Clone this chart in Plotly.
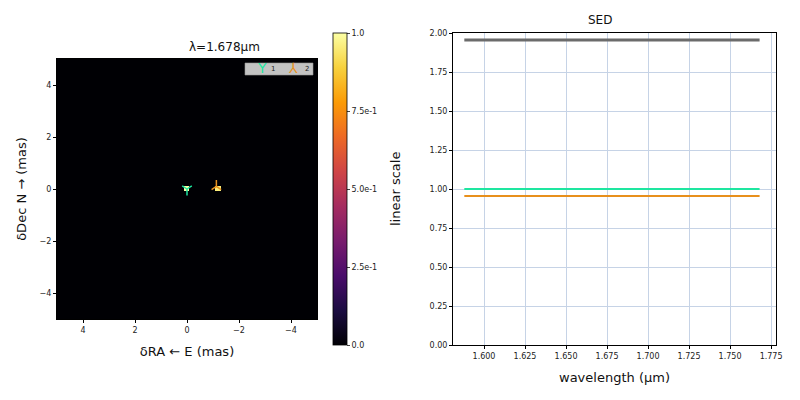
import numpy as np
import plotly.graph_objects as go

# sources in the model image (mas) and their relative fluxes
src_names = ['1', '2']
src_ra = [0.0, -1.13]
src_dec = [0.0, 0.10]
src_flux = [1.0, 0.955]
src_colors = ['#1ee6a0', '#e8901c']
src_symbols = ['y-down', 'y-up']
src_glyphs = ['Y', '⅄']

# SED
wavelength = [1.588, 1.678, 1.768]
sed_1 = [1.0, 1.0, 1.0]
sed_2 = [0.955, 0.955, 0.955]
sed_total = [1.955, 1.955, 1.955]

cb_vals = [0.0, 0.25, 0.5, 0.75, 1.0]
cb_text = ['0.0', '2.5e-1', '5.0e-1', '7.5e-1', '1.0']

# image grid, 0.2 mas pixels
pix = 0.2
grid = np.round(np.arange(-5, 5 + pix / 2, pix), 3)
img = np.zeros((len(grid), len(grid)))
for ra, dec, f in zip(src_ra, src_dec, src_flux):
    i = np.argmin(np.abs(grid - dec))
    j = np.argmin(np.abs(grid - ra))
    img[i, j] = f

W, H = 800, 400
OFF = 8  # page body margin


def px(x):
    return (x - OFF) / W


def py(y):
    return 1 - (y - OFF) / H


font = 'DejaVu Sans'
fig = go.Figure()

fig.add_trace(go.Heatmap(
    x=grid, y=grid, z=img, zmin=0, zmax=1,
    colorscale='Inferno', showscale=True,
    xaxis='x', yaxis='y', hoverinfo='skip',
    colorbar=dict(
        x=px(333), xanchor='left', y=py(189), yanchor='middle',
        len=312 / H, lenmode='fraction', thickness=14, xpad=0, ypad=0,
        outlinewidth=0.8, outlinecolor='black',
        tickvals=cb_vals, ticktext=cb_text, ticks='outside', ticklen=3,
        tickfont=dict(size=8, family=font, color='#222'),
    ),
))

for name, ra, dec, c, s in zip(src_names, src_ra, src_dec, src_colors, src_symbols):
    fig.add_trace(go.Scatter(
        x=[ra], y=[dec], mode='markers', name=name, showlegend=False,
        marker=dict(symbol=s, size=8, color=c, line=dict(color=c, width=1.5)),
        xaxis='x', yaxis='y',
    ))

fig.add_trace(go.Scatter(x=wavelength, y=sed_total, mode='lines', showlegend=False,
                         line=dict(color='#6b6b6b', width=3), xaxis='x2', yaxis='y2'))
fig.add_trace(go.Scatter(x=wavelength, y=sed_1, mode='lines', showlegend=False,
                         line=dict(color=src_colors[0], width=2), xaxis='x2', yaxis='y2'))
fig.add_trace(go.Scatter(x=wavelength, y=sed_2, mode='lines', showlegend=False,
                         line=dict(color=src_colors[1], width=2), xaxis='x2', yaxis='y2'))

ax = dict(showline=True, linecolor='black', linewidth=1, mirror=True,
          ticks='outside', ticklen=3, tickcolor='black', automargin=False,
          tickfont=dict(size=8, family=font, color='#222'), zeroline=False)

# small legend box in the image corner
legend_shapes = [dict(type='rect', xref='paper', yref='paper',
                      x0=px(245), x1=px(313), y0=py(75), y1=py(63),
                      fillcolor='rgba(205,205,205,0.95)', line=dict(color='#999', width=0.6))]
legend_notes = []
for k, (name, c, g) in enumerate(zip(src_names, src_colors, src_glyphs)):
    x0 = 255 + 38 * k
    legend_notes.append(dict(text=g, x=px(x0), y=py(69), xref='paper', yref='paper',
                             yanchor='middle', yshift=1,
                             showarrow=False, font=dict(size=14, family=font, color=c)))
    legend_notes.append(dict(text=name, x=px(x0 + 14), y=py(69), xref='paper', yref='paper',
                             yanchor='middle',
                             showarrow=False, font=dict(size=7, family=font, color='#222')))

fig.update_layout(
    width=W, height=H,
    margin=dict(l=0, r=0, t=0, b=0, autoexpand=False),
    paper_bgcolor='white', plot_bgcolor='white',
    font=dict(family=font, color='#111'),
    showlegend=False,
    xaxis=dict(**ax, domain=[px(57), px(317)], range=[5, -5],
               tickvals=[4, 2, 0, -2, -4], showgrid=False,
               title=dict(text='δRA ← E (mas)', font=dict(size=13), standoff=13)),
    yaxis=dict(**ax, domain=[py(319), py(59)], range=[-5, 5],
               tickvals=[-4, -2, 0, 2, 4], showgrid=False,
               title=dict(text='δDec N → (mas)', font=dict(size=13), standoff=10)),
    xaxis2=dict(**ax, domain=[px(453), px(776)], range=[1.5811, 1.778],
                tickvals=[1.600, 1.625, 1.650, 1.675, 1.700, 1.725, 1.750, 1.775],
                tickformat='.3f', showgrid=True, gridcolor='#c6d3e6', gridwidth=0.6,
                anchor='y2',
                title=dict(text='wavelength (μm)', font=dict(size=13), standoff=13)),
    yaxis2=dict(**ax, domain=[py(345), py(33)], range=[0, 2],
                tickvals=[0, 0.25, 0.5, 0.75, 1.0, 1.25, 1.5, 1.75, 2.0],
                tickformat='.2f', showgrid=True, gridcolor='#c6d3e6', gridwidth=0.6,
                anchor='x2'),
    shapes=legend_shapes,
    annotations=[
        dict(text='λ=1.678μm', x=px(187), y=py(47), xref='paper', yref='paper',
             yanchor='middle', showarrow=False, font=dict(size=12, family=font)),
        dict(text='SED', x=px(614), y=py(20), xref='paper', yref='paper',
             yanchor='middle', showarrow=False, font=dict(size=12, family=font)),
        dict(text='linear scale', x=px(395), y=py(189), xref='paper', yref='paper',
             xanchor='center', yanchor='middle', textangle=-90,
             showarrow=False, font=dict(size=13, family=font)),
    ] + legend_notes,
)

fig.write_html('out.html')
